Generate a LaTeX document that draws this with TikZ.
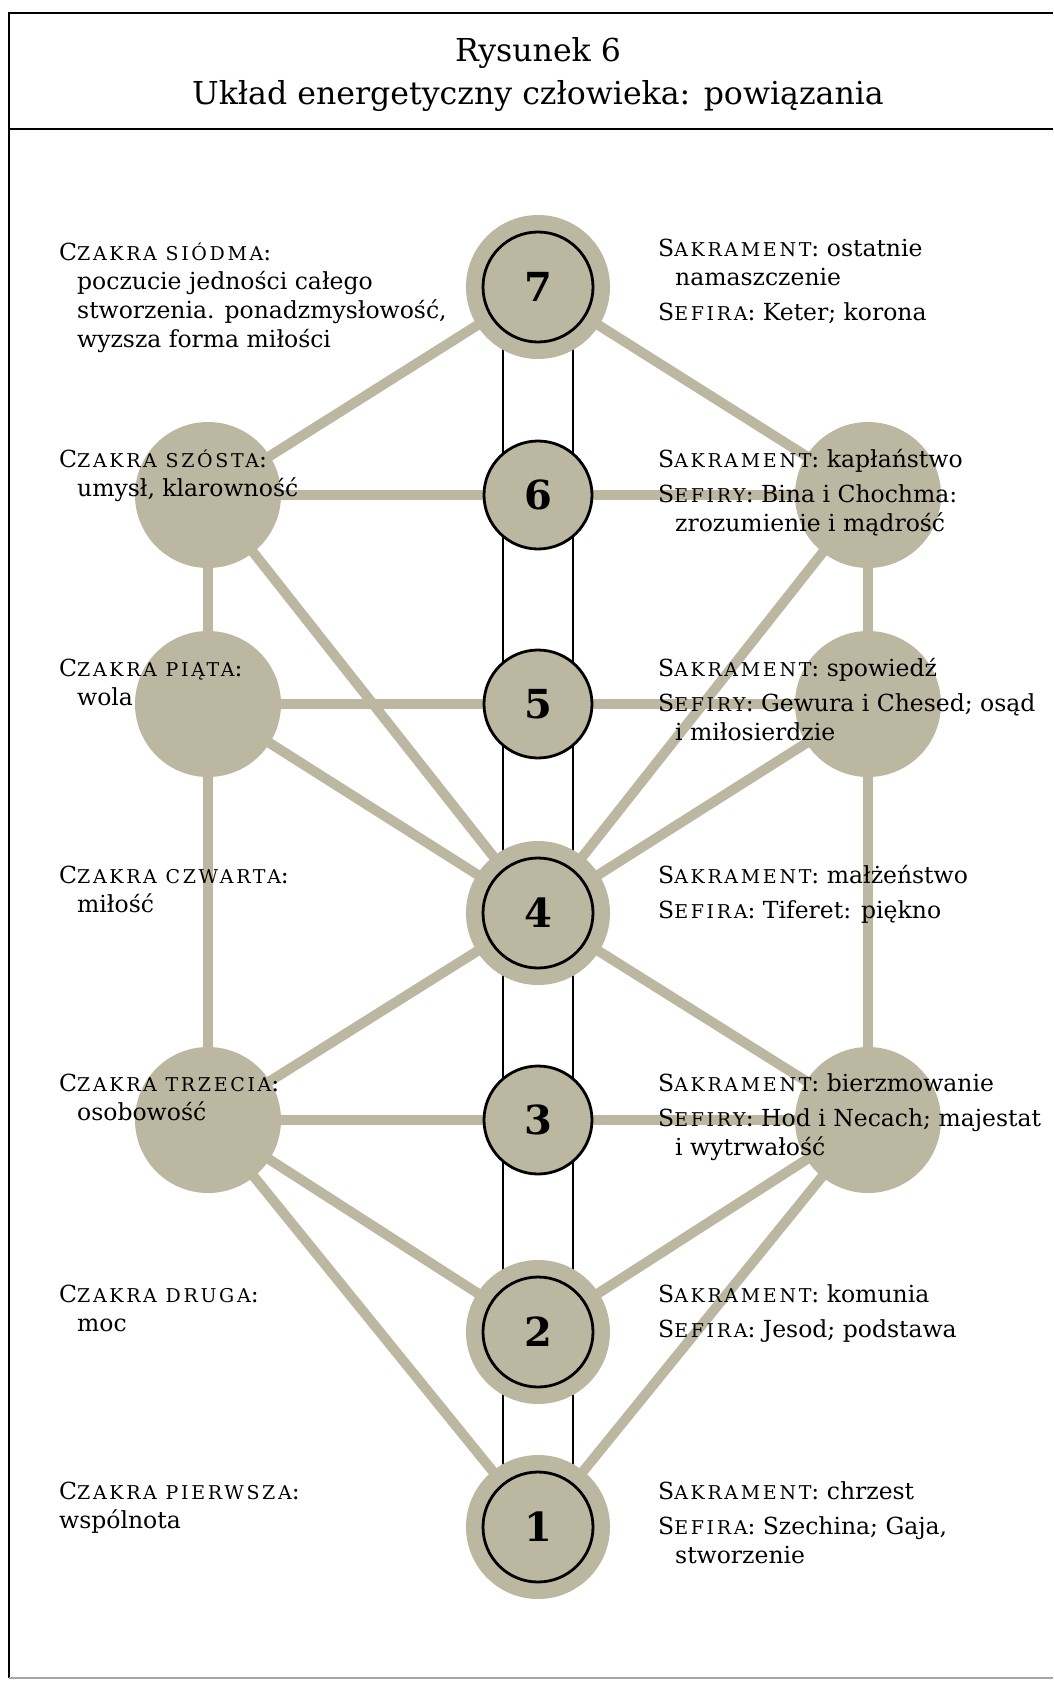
\documentclass[tikz,border=0pt]{standalone}
\usepackage{fontspec}
\setmainfont{DejaVu Serif}
\definecolor{sage}{RGB}{188,183,160}
\newcommand\bodyfont{\fontsize{23.5}{29}\selectfont}
\newcommand\numfont{\fontsize{40}{40}\selectfont\bfseries}
\newcommand\smc[1]{{\fontsize{19}{29}\selectfont\addfontfeature{LetterSpace=14}#1}}
\pgfdeclarelayer{background}
\pgfsetlayers{background,main}
\tikzset{
  link/.style={draw=sage, line width=10pt},
  column/.style={draw=black, line width=2pt},
  bigc/.style={circle, fill=sage, minimum size=144pt, inner sep=0pt, font=\numfont,
    path picture={\draw[line width=2.8pt] (path picture bounding box.center) circle (55pt);}},
  smallc/.style={circle, fill=sage, draw=black, line width=2.8pt, minimum size=108pt, inner sep=0pt, font=\numfont},
  sidec/.style={circle, fill=sage, minimum size=146pt, inner sep=0pt},
  txt/.style={anchor=base west, inner sep=0pt, font=\bodyfont},
  ttl/.style={anchor=base, inner sep=0pt, font=\fontsize{31.6}{33}\selectfont},
}
\begin{document}
\begin{tikzpicture}[x=1pt, y=-1pt]
\useasboundingbox (0,0) rectangle (1053,1684);
% frame
\draw[line width=1.8pt] (1053,13) -- (9,13) -- (9,1678);
\draw[line width=1.8pt] (9,129) -- (1053,129);
\draw[line width=1.2pt, black!35] (9,1678) -- (1053,1678);
% title
\node[ttl] (t1) at (538,61) {Rysunek 6};
\node[ttl] (t2) at (538,104) {Układ energetyczny człowieka: powiązania};
% circles
\node[bigc] (c7) at (538,287) {7};
\node[smallc] (c6) at (538,495) {6};
\node[smallc] (c5) at (538,704) {5};
\node[bigc] (c4) at (538,913) {4};
\node[smallc] (c3) at (538,1120) {3};
\node[bigc] (c2) at (538,1332) {2};
\node[bigc] (c1) at (538,1527) {1};
\node[sidec] (l6) at (208,495) {};
\node[sidec] (l5) at (208,704) {};
\node[sidec] (l3) at (208,1120) {};
\node[sidec] (r6) at (868,495) {};
\node[sidec] (r5) at (868,704) {};
\node[sidec] (r3) at (868,1120) {};
% connectors
\begin{pgfonlayer}{background}
\draw[link] (l6.center) -- (c7.center) -- (r6.center);
\draw[link] (l6.center) -- (r6.center);
\draw[link] (l5.center) -- (r5.center);
\draw[link] (l3.center) -- (r3.center);
\draw[link] (l6.center) -- (l5.center) -- (l3.center);
\draw[link] (r6.center) -- (r5.center) -- (r3.center);
\draw[link] (l6.center) -- (c4.center);
\draw[link] (l5.center) -- (c4.center);
\draw[link] (r6.center) -- (c4.center);
\draw[link] (r5.center) -- (c4.center);
\draw[link] (l3.center) -- (c4.center) -- (r3.center);
\draw[link] (c2.center) -- (l3.center) -- (c1.center);
\draw[link] (c2.center) -- (r3.center) -- (c1.center);
\draw[column] ([xshift=-35pt]c7.center) -- ([xshift=-35pt]c1.center);
\draw[column] ([xshift=35pt]c7.center) -- ([xshift=35pt]c1.center);
\end{pgfonlayer}
% left texts
\node[txt] (L7) at (59,260) {\begin{tabular}[t]{@{}l@{}}C\smc{ZAKRA SIÓDMA}:\\\hspace*{18pt}poczucie jedności całego\\\hspace*{18pt}stworzenia. ponadzmysłowość,\\\hspace*{18pt}wyzsza forma miłości\end{tabular}};
\node[txt] (L6) at (59,467) {\begin{tabular}[t]{@{}l@{}}C\smc{ZAKRA SZÓSTA}:\\\hspace*{18pt}umysł, klarowność\end{tabular}};
\node[txt] (L5) at (59,676) {\begin{tabular}[t]{@{}l@{}}C\smc{ZAKRA PIĄTA}:\\\hspace*{18pt}wola\end{tabular}};
\node[txt] (L4) at (59,883) {\begin{tabular}[t]{@{}l@{}}C\smc{ZAKRA CZWARTA}:\\\hspace*{18pt}miłość\end{tabular}};
\node[txt] (L3) at (59,1091) {\begin{tabular}[t]{@{}l@{}}C\smc{ZAKRA TRZECIA}:\\\hspace*{18pt}osobowość\end{tabular}};
\node[txt] (L2) at (59,1302) {\begin{tabular}[t]{@{}l@{}}C\smc{ZAKRA DRUGA}:\\\hspace*{18pt}moc\end{tabular}};
\node[txt] (L1) at (59,1499) {\begin{tabular}[t]{@{}l@{}}C\smc{ZAKRA PIERWSZA}:\\wspólnota\end{tabular}};
% right texts
\node[txt] (R7) at (658,256) {\begin{tabular}[t]{@{}l@{}}S\smc{AKRAMENT}: ostatnie\\\hspace*{17pt}namaszczenie\\[6pt]S\smc{EFIRA}: Keter; korona\end{tabular}};
\node[txt] (R6) at (658,467) {\begin{tabular}[t]{@{}l@{}}S\smc{AKRAMENT}: kapłaństwo\\[6pt]S\smc{EFIRY}: Bina i Chochma:\\\hspace*{17pt}zrozumienie i mądrość\end{tabular}};
\node[txt] (R5) at (658,676) {\begin{tabular}[t]{@{}l@{}}S\smc{AKRAMENT}: spowiedź\\[6pt]S\smc{EFIRY}: Gewura i Chesed; osąd\\\hspace*{17pt}i miłosierdzie\end{tabular}};
\node[txt] (R4) at (658,883) {\begin{tabular}[t]{@{}l@{}}S\smc{AKRAMENT}: małżeństwo\\[6pt]S\smc{EFIRA}: Tiferet: piękno\end{tabular}};
\node[txt] (R3) at (658,1091) {\begin{tabular}[t]{@{}l@{}}S\smc{AKRAMENT}: bierzmowanie\\[6pt]S\smc{EFIRY}: Hod i Necach; majestat\\\hspace*{17pt}i wytrwałość\end{tabular}};
\node[txt] (R2) at (658,1302) {\begin{tabular}[t]{@{}l@{}}S\smc{AKRAMENT}: komunia\\[6pt]S\smc{EFIRA}: Jesod; podstawa\end{tabular}};
\node[txt] (R1) at (658,1499) {\begin{tabular}[t]{@{}l@{}}S\smc{AKRAMENT}: chrzest\\[6pt]S\smc{EFIRA}: Szechina; Gaja,\\\hspace*{17pt}stworzenie\end{tabular}};
\end{tikzpicture}
\end{document}
